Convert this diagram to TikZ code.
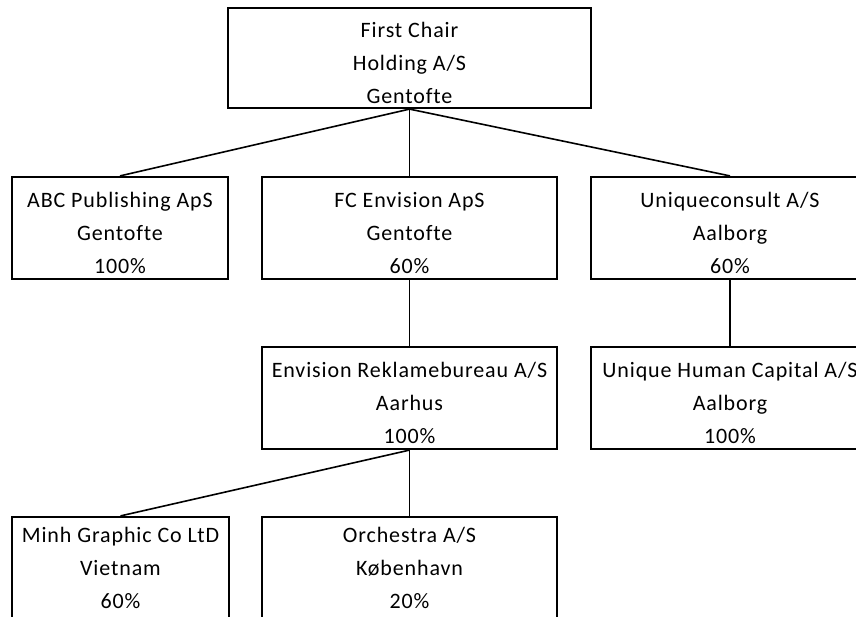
\documentclass[tikz,border=0pt]{standalone}
\usepackage{fontspec}
\setmainfont{Carlito}[LetterSpace=4,Ligatures=NoCommon]
\newcommand{\lift}[1][26pt]{\rule{0pt}{#1}}

\begin{document}
\begin{tikzpicture}[x=1pt,y=-1pt,
  box/.style={shape=rectangle,draw=black,align=center,line width=2.2pt,minimum height=102pt,inner sep=0pt,font=\fontsize{22}{33}\selectfont},
  link/.style={-,draw=black,line width=1.6pt}]
\useasboundingbox (0,0) rectangle (856,616);
\clip (0,0) rectangle (856,616);

\node[box,minimum width=363pt,minimum height=100pt] (chair) at (409.5,58) {\lift First Chair\\Holding A/S\\Gentofte};
\node[box,minimum width=216pt] (abc) at (120,228) {\lift ABC Publishing ApS\\Gentofte\\100\%};
\node[box,minimum width=295pt] (fc) at (409.5,228) {\lift FC Envision ApS\\Gentofte\\60\%};
\node[box,minimum width=278pt] (uc) at (730,228) {\lift Uniqueconsult A/S\\Aalborg\\60\%};
\node[box,minimum width=295pt] (envision) at (409.5,398) {\lift Envision Reklamebureau A/S\\Aarhus\\100\%};
\node[box,minimum width=278pt] (uhc) at (730,398) {\lift Unique Human Capital A/S\\Aalborg\\100\%};
\node[box,minimum width=217pt] (minh) at (120.5,568) {\lift[16pt]Minh Graphic Co LtD\\Vietnam\\60\%};
\node[box,minimum width=295pt] (orch) at (409.5,568) {\lift[16pt]Orchestra A/S\\København\\20\%};

\path [link] (chair.south) edge (abc.north);
\path [link] (chair.south) edge (fc.north);
\path [link] (chair.south) edge (uc.north);
\path [link] (fc.south) edge (envision.north);
\path [link] (uc.south) edge (uhc.north);
\path [link] (envision.south) edge (minh.north);
\path [link] (envision.south) edge (orch.north);
\end{tikzpicture}
\end{document}
